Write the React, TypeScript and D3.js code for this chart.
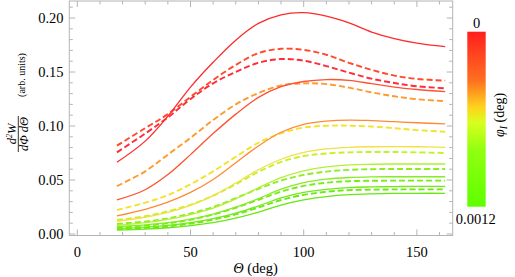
import React from 'react';
import * as d3 from 'd3';

// scattering angle samples (deg)
const theta = [17.5, 30, 40, 50, 60, 70, 80, 90, 100, 110, 120, 130, 140, 150, 162.5];

// solid curves, top to bottom
const solidRed = [0.0664, 0.086, 0.109, 0.136, 0.159, 0.1795, 0.195, 0.203, 0.205, 0.2018, 0.1955, 0.187, 0.181, 0.1768, 0.1734];
const solidRedOrange = [0.0315, 0.041, 0.055, 0.0735, 0.093, 0.111, 0.1265, 0.1365, 0.1412, 0.143, 0.1423, 0.1392, 0.136, 0.1338, 0.1318];
const solidOrange = [0.0167, 0.0228, 0.0295, 0.0385, 0.0505, 0.066, 0.0815, 0.0942, 0.1015, 0.1045, 0.1055, 0.105, 0.104, 0.103, 0.102];
const solidYellow = [0.0118, 0.0155, 0.02, 0.0265, 0.0355, 0.0472, 0.0595, 0.0692, 0.0755, 0.0788, 0.0803, 0.0808, 0.0809, 0.0808, 0.0803];
const solidYellowGreen = [0.008, 0.0105, 0.0135, 0.018, 0.024, 0.0325, 0.0428, 0.0522, 0.0585, 0.0622, 0.064, 0.0646, 0.0648, 0.0648, 0.0648];
const solidGreen1 = [0.0068, 0.0085, 0.0105, 0.0138, 0.0185, 0.0248, 0.0328, 0.0415, 0.0475, 0.0508, 0.0523, 0.0529, 0.053, 0.053, 0.053];
const solidGreen2 = [0.005, 0.0063, 0.008, 0.0106, 0.0142, 0.0193, 0.026, 0.0335, 0.0385, 0.0414, 0.043, 0.0436, 0.0439, 0.0441, 0.0441];
const solidGreen3 = [0.0035, 0.0045, 0.0058, 0.0078, 0.0105, 0.0147, 0.0202, 0.0268, 0.0316, 0.0346, 0.0364, 0.0372, 0.0376, 0.0377, 0.0377];

// dashed curves
const dashedOrangeRed = [0.0818, 0.098, 0.111, 0.127, 0.1426, 0.1565, 0.1675, 0.1715, 0.1705, 0.166, 0.1585, 0.152, 0.1467, 0.1436, 0.142];
const dashedRed = [0.0756, 0.093, 0.108, 0.125, 0.1395, 0.15, 0.1585, 0.162, 0.1605, 0.1555, 0.1494, 0.1438, 0.1398, 0.1368, 0.1349];
const dashedOrange = [0.0444, 0.058, 0.0735, 0.089, 0.1055, 0.12, 0.1305, 0.1375, 0.1395, 0.1388, 0.1355, 0.1312, 0.1275, 0.1248, 0.123];
const dashedYellow = [0.0222, 0.029, 0.036, 0.046, 0.058, 0.0715, 0.0845, 0.0932, 0.0985, 0.1002, 0.1003, 0.0995, 0.098, 0.0962, 0.0947];
const dashedYellowGreen = [0.013, 0.0165, 0.021, 0.027, 0.0355, 0.046, 0.0575, 0.0668, 0.0722, 0.0745, 0.0756, 0.0759, 0.0759, 0.0756, 0.075];
const dashedGreen1 = [0.0093, 0.0115, 0.0145, 0.019, 0.025, 0.0332, 0.0418, 0.0495, 0.0547, 0.0578, 0.0594, 0.06, 0.0602, 0.0602, 0.0602];
const dashedGreen2 = [0.006, 0.0078, 0.0098, 0.0132, 0.018, 0.0243, 0.0317, 0.0392, 0.0445, 0.0475, 0.0489, 0.0493, 0.0494, 0.0494, 0.0494];
const dashedGreen3 = [0.0045, 0.0057, 0.0072, 0.0097, 0.0133, 0.0182, 0.0245, 0.0315, 0.0362, 0.0391, 0.0406, 0.0411, 0.0413, 0.0413, 0.0413];

const xTicks = [0, 50, 100, 150];
const yTicks = [0, 0.05, 0.1, 0.15, 0.2];
const colorbarLabels = ['0', '0.0012'];

const series = [
  { values: dashedOrangeRed, color: '#ff4a2c', dashed: true },
  { values: dashedRed, color: '#ff2a3a', dashed: true },
  { values: dashedOrange, color: '#ff9a2a', dashed: true },
  { values: dashedYellow, color: '#f4e22c', dashed: true },
  { values: dashedYellowGreen, color: '#c4f22a', dashed: true },
  { values: dashedGreen1, color: '#8cee22', dashed: true },
  { values: dashedGreen2, color: '#78ec14', dashed: true },
  { values: dashedGreen3, color: '#6aea10', dashed: true },
  { values: solidRed, color: '#ff2a2a', dashed: false },
  { values: solidRedOrange, color: '#ff5232', dashed: false },
  { values: solidOrange, color: '#ff8a34', dashed: false },
  { values: solidYellow, color: '#f2e040', dashed: false },
  { values: solidYellowGreen, color: '#b4f032', dashed: false },
  { values: solidGreen1, color: '#86ec24', dashed: false },
  { values: solidGreen2, color: '#72ea16', dashed: false },
  { values: solidGreen3, color: '#66e810', dashed: false },
];

const frame = { left: 69.3, right: 452.7, top: 1, bottom: 235.5 };
const axisColor = '#b4b4b4';
const serif = { fontFamily: "'Liberation Serif', 'DejaVu Serif', 'Times New Roman', serif" };

const App = () => {
  const x = d3.scaleLinear().domain([0, 150]).range([77.3, 416.9]);
  const y = d3.scaleLinear().domain([0, 0.2]).range([234, 18]);

  const line = d3.line<number>()
    .x((_, i) => x(theta[i]))
    .y(d => y(d))
    .curve(d3.curveCatmullRom.alpha(0.5));

  const xMinor = d3.range(0, 170, 10).filter(v => x(v) > frame.left && x(v) < frame.right);
  const yMinor = d3.range(0, 0.216, 0.01);

  return (
    <svg width={515} height={277} style={{ position: 'absolute', left: 0, top: 0, background: '#fff' }}>
      <defs>
        <linearGradient id="cbar" x1="0" y1="0" x2="0" y2="1">
          <stop offset="0" stopColor="#ff1e1e" />
          <stop offset="0.28" stopColor="#ff7020" />
          <stop offset="0.43" stopColor="#ffd21e" />
          <stop offset="0.52" stopColor="#d8ff1e" />
          <stop offset="0.68" stopColor="#90ff10" />
          <stop offset="1" stopColor="#5eff00" />
        </linearGradient>
      </defs>

      {series.map((s, i) => (
        <path key={i} d={line(s.values) || ''} fill="none" stroke={s.color}
          strokeWidth={s.dashed ? 1.9 : 1.3} strokeDasharray={s.dashed ? '6,3' : undefined} />
      ))}

      {/* frame */}
      <rect x={frame.left} y={frame.top} width={frame.right - frame.left} height={frame.bottom - frame.top}
        fill="none" stroke={axisColor} strokeWidth={1} />

      {xMinor.map(v => {
        const len = v % 50 === 0 ? 6 : 3.5;
        return (
          <g key={'xt' + v} stroke={axisColor}>
            <line x1={x(v)} x2={x(v)} y1={frame.bottom} y2={frame.bottom - len} />
            <line x1={x(v)} x2={x(v)} y1={frame.top} y2={frame.top + len} />
          </g>
        );
      })}
      {yMinor.map((v, i) => {
        const len = i % 5 === 0 ? 6 : 3.5;
        return (
          <g key={'yt' + i} stroke={axisColor}>
            <line x1={frame.left} x2={frame.left + len} y1={y(v)} y2={y(v)} />
            <line x1={frame.right} x2={frame.right - len} y1={y(v)} y2={y(v)} />
          </g>
        );
      })}

      <g style={serif}>
        {xTicks.map(v => (
          <text key={'xl' + v} x={x(v)} y={257} textAnchor="middle" fontSize={14.5}>{v}</text>
        ))}
        {yTicks.map(v => (
          <text key={'yl' + v} x={63.5} y={y(v) + 5} textAnchor="end" fontSize={14.5}>{v.toFixed(2)}</text>
        ))}

        <text x={255.5} y={273} textAnchor="middle" fontSize={14.5}>
          <tspan fontStyle="italic">Θ</tspan> (deg)
        </text>

        {/* y label */}
        <g transform="translate(18.3,134) rotate(-90)">
          <text x={0} y={-2.5} textAnchor="middle" fontSize={12.5} fontStyle="italic">
            d<tspan fontSize={8} dy={-4}>2</tspan><tspan dy={4}>W</tspan>
          </text>
          <line x1={-18} x2={18} y1={0} y2={0} stroke="#000" strokeWidth={0.8} />
          <text x={0} y={9.5} textAnchor="middle" fontSize={12.5} fontStyle="italic">dΦ dΘ</text>
        </g>
        <text transform="translate(24.5,75) rotate(-90)" textAnchor="middle" fontSize={10}>(arb. units)</text>

        {/* colorbar */}
        <rect x={467.3} y={31.7} width={18.4} height={175} fill="url(#cbar)" />
        <text x={476.5} y={27.5} textAnchor="middle" fontSize={14.5}>{colorbarLabels[0]}</text>
        <text x={475.7} y={224} textAnchor="middle" fontSize={14.5}>{colorbarLabels[1]}</text>
        <text transform="translate(504,115) rotate(-90)" textAnchor="middle" fontSize={14}>
          <tspan fontStyle="italic">φ</tspan><tspan fontStyle="italic" fontSize={10} dy={3}>I</tspan><tspan dy={-3}> (deg)</tspan>
        </text>
      </g>
    </svg>
  );
};

export default App;
